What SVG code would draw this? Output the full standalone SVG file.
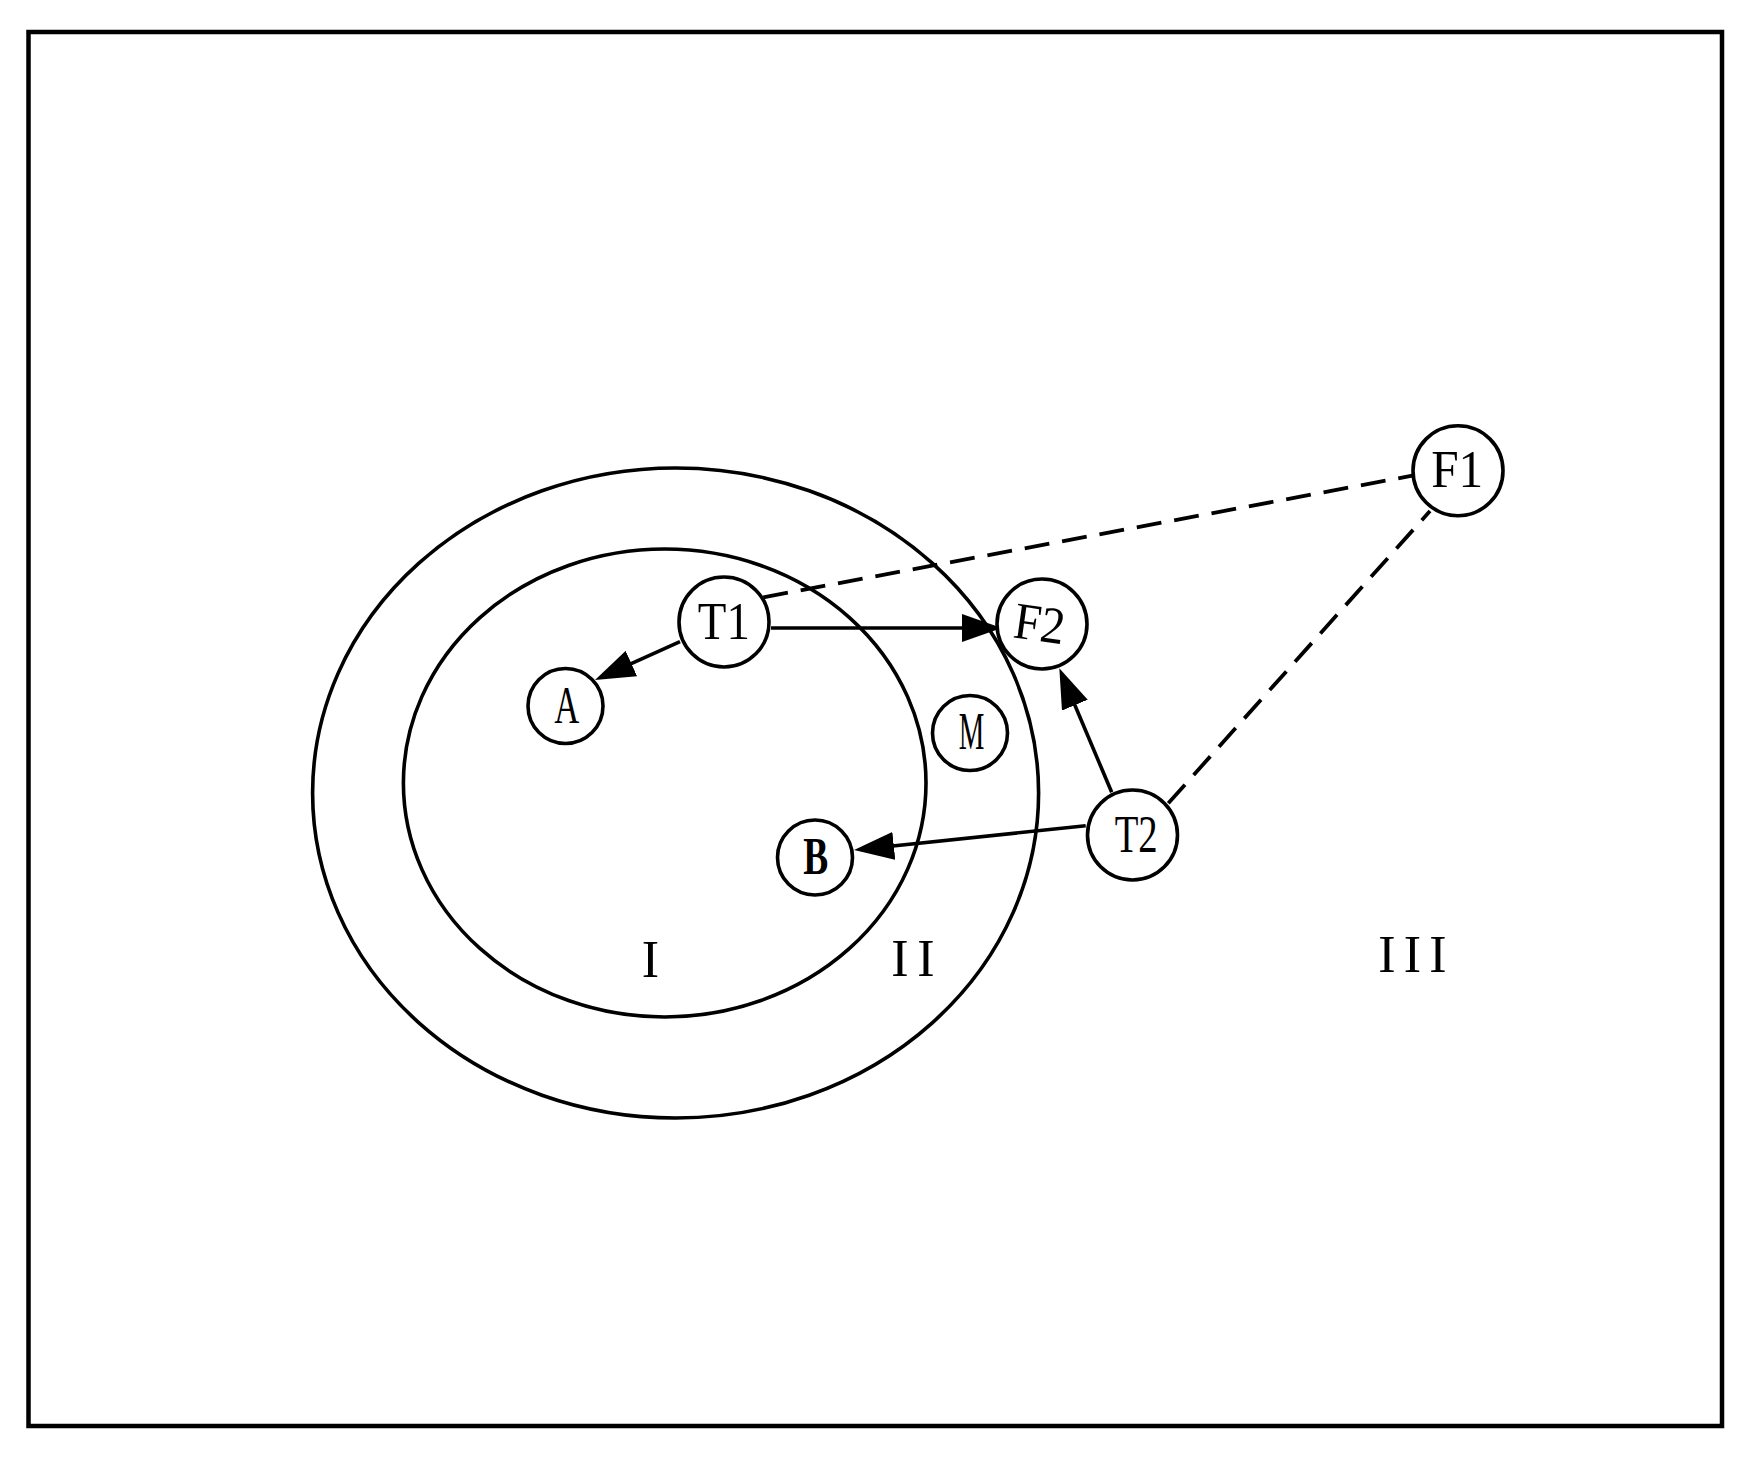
<svg xmlns="http://www.w3.org/2000/svg" width="1749" height="1458" viewBox="0 0 1749 1458">
<style>
.frame{fill:none;stroke:#000;stroke-width:4.5}
.zone{fill:none;stroke:#000;stroke-width:3.6}
.node{fill:#fff;stroke:#000;stroke-width:3.6}
.lbl{font-family:"Liberation Serif","Times New Roman",serif;font-size:52px;fill:#000;text-anchor:middle}
.bold{font-weight:bold}
.arrow{fill:none;stroke:#000;stroke-width:3.6}
.dash{fill:none;stroke:#000;stroke-width:3.8;stroke-dasharray:25 13}
</style>
<defs>
<marker id="ah" viewBox="0 -14 40 28" markerUnits="userSpaceOnUse" markerWidth="40" markerHeight="28" refX="30" refY="0" orient="auto">
<path d="M0,-14 L40,0 L0,14 z" fill="#000"/>
</marker>
</defs>
<rect width="1749" height="1458" fill="#fff"/>
<rect class="frame" x="28.5" y="32" width="1693.5" height="1394"/>
<g id="zones">
<ellipse id="zone-outer" class="zone" cx="675.6" cy="793" rx="363" ry="325"/>
<ellipse id="zone-inner" class="zone" cx="664.7" cy="783" rx="261.3" ry="234"/>
<text class="lbl" x="650.5" y="976.7">I</text>
<text class="lbl" x="900 926" y="976">II</text>
<text class="lbl" x="1387 1412.5 1438" y="971.7">III</text>
</g>
<g id="connectors">
<line class="arrow" x1="680" y1="641.7" x2="604.1" y2="675.9" marker-end="url(#ah)"/>
<line class="arrow" x1="771" y1="628" x2="991.7" y2="628" marker-end="url(#ah)"/>
<line class="arrow" x1="1111.7" y1="792.3" x2="1063.2" y2="677.5" marker-end="url(#ah)"/>
<line class="arrow" x1="1085.7" y1="825.7" x2="864" y2="849" marker-end="url(#ah)"/>
<line class="dash" x1="763.3" y1="597.3" x2="1412.3" y2="475.7"/>
<line class="dash" x1="1168.3" y1="803.3" x2="1430" y2="511"/>
</g>
<g id="node-T1">
<circle class="node" cx="724" cy="622" r="45"/>
<text class="lbl" x="723.8" y="639.3" textLength="52" lengthAdjust="spacingAndGlyphs">T1</text>
</g>
<g id="node-A">
<circle class="node" cx="565.5" cy="706" r="37.5"/>
<text class="lbl" x="566.7" y="722.7" textLength="25" lengthAdjust="spacingAndGlyphs">A</text>
</g>
<g id="node-B">
<circle class="node" cx="815" cy="857.5" r="37.5"/>
<text class="lbl bold" x="815.8" y="874.3" textLength="25" lengthAdjust="spacingAndGlyphs">B</text>
</g>
<g id="node-M">
<circle class="node" cx="970" cy="733" r="37.5"/>
<text class="lbl" x="971.5" y="749.3" textLength="25.6" lengthAdjust="spacingAndGlyphs">M</text>
</g>
<g id="node-F2">
<circle class="node" cx="1042" cy="624" r="45"/>
<text class="lbl" x="1039.5" y="641" textLength="51" lengthAdjust="spacingAndGlyphs" transform="rotate(8 1039.5 624)">F2</text>
</g>
<g id="node-T2">
<circle class="node" cx="1132.5" cy="835" r="45"/>
<text class="lbl" x="1136.2" y="851.7" textLength="43" lengthAdjust="spacingAndGlyphs">T2</text>
</g>
<g id="node-F1">
<circle class="node" cx="1458" cy="470.7" r="45"/>
<text class="lbl" x="1457.2" y="487.3" textLength="52" lengthAdjust="spacingAndGlyphs">F1</text>
</g>
</svg>
